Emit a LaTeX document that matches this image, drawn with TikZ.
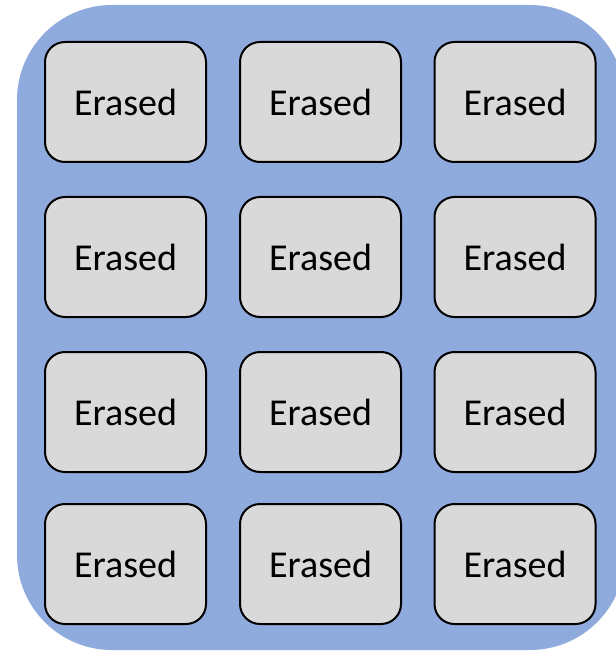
\documentclass[tikz,border=0pt]{standalone}
\usepackage{fontspec}
\setmainfont{Carlito}
\usepackage{tikz}
\usetikzlibrary{positioning}
\definecolor{blockBlue}{HTML}{8FAADC}
\definecolor{pageGray}{HTML}{D9D9D9}

\begin{document}
\begin{tikzpicture}[x=1pt,y=-1pt,
    page/.style={draw=black,fill=pageGray,line width=2pt,rounded corners=20pt,
      minimum width=161pt,minimum height=120pt,inner sep=0pt,
      font=\fontsize{38}{40}\selectfont}]
    \useasboundingbox (0,0) rectangle (615,652);
    \fill[blockBlue,rounded corners=95pt] (17,5) rectangle (625,650);
    \foreach \r/\y in {1/102,2/257,3/412,4/564}
      \foreach \c/\x in {1/125.5,2/320.5,3/515}
        \node[page] (p\r\c) at (\x,\y) {Erased};
  \end{tikzpicture}
\end{document}
